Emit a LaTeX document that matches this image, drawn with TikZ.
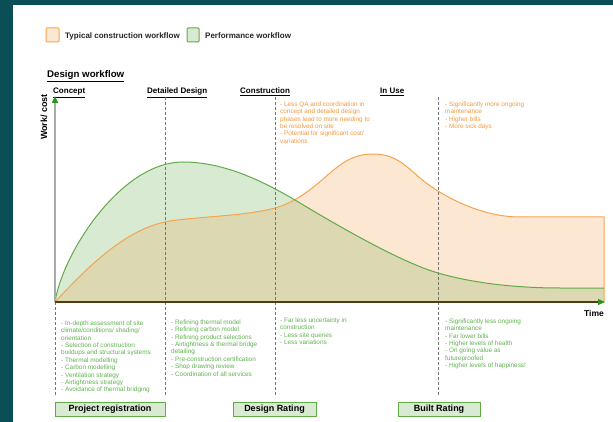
\documentclass[tikz,border=0pt]{standalone}
\usepackage{fontspec}
\setmainfont{Liberation Sans}
\usetikzlibrary{arrows.meta}

\definecolor{frame}{RGB}{10,79,85}
\definecolor{perfline}{RGB}{98,170,72}
\definecolor{perffill}{RGB}{217,234,211}
\definecolor{typline}{RGB}{246,164,78}
\definecolor{typfill}{RGB}{252,231,210}
\definecolor{overlap}{RGB}{219,216,178}
\definecolor{perftext}{RGB}{96,178,80}
\definecolor{typtext}{RGB}{245,152,62}
\definecolor{axisline}{RGB}{78,62,22}
\definecolor{phaseline}{RGB}{115,115,115}
\definecolor{yaxis}{RGB}{170,170,170}
\definecolor{arrowgreen}{RGB}{40,150,30}

% performance workflow curve
\def\perfcurve{(55,302) .. controls (62,255) and (120,162) .. (183,162)
  .. controls (225,162) and (265,182) .. (300,203)
  .. controls (335,224) and (400,262) .. (438,273)
  .. controls (476,284) and (520,288) .. (560,288) -- (604,288)}
% typical construction workflow curve
\def\typcurve{(55,302) .. controls (85,270) and (125,228) .. (170,221)
  .. controls (200,216.5) and (245,216) .. (275,208)
  .. controls (292,203.5) and (308,192) .. (322,180)
  .. controls (340,164) and (352,154) .. (373,154)
  .. controls (395,154) and (405,165) .. (420,178)
  .. controls (440,195) and (480,217) .. (520,217) -- (604,217)}

\begin{document}
\begin{tikzpicture}[x=1pt,y=-1pt,
  note/.style={anchor=north west, inner sep=0pt, align=left,
    font=\fontsize{6.4}{7.4}\selectfont},
  goodnote/.style={note, text=perftext},
  badnote/.style={note, text=typtext},
  phasehead/.style={anchor=base west, inner sep=0pt,
    font=\fontsize{8}{9}\selectfont\bfseries},
  legtext/.style={anchor=base west, inner sep=0pt,
    font=\fontsize{8}{9}\selectfont\bfseries, text=black!85},
  ratingbox/.style={draw=perfline, fill=perffill, line width=1pt,
    font=\fontsize{9}{10}\selectfont\bfseries, inner sep=0pt},
  phasediv/.style={phaseline, dashed, dash pattern=on 3pt off 2pt, line width=0.8pt},
  greentip/.style={-{Triangle[length=7pt,width=6pt,color=arrowgreen]}}
]
\useasboundingbox (0,0) rectangle (613,422);
\fill[frame] (0,0) rectangle (613,422);
\fill[white] (13,5) rectangle (613,422);

% legend
\draw[typline, fill=typfill, rounded corners=1pt, line width=1pt] (46,28) rectangle (59,42);
\node[legtext] (legtyp) at (65,39) {Typical construction workflow};
\draw[perfline, fill=perffill, rounded corners=1pt, line width=1pt] (187,28) rectangle (199,42);
\node[legtext] (legperf) at (205,39) {Performance workflow};

% title and phase headings
\node[anchor=base west, inner sep=0pt, font=\fontsize{9.7}{11}\selectfont\bfseries]
  (title) at (47,78) {\underline{Design workflow}};
\node[phasehead] (hconcept) at (53,94) {\underline{Concept}};
\node[phasehead] (hdetail) at (147,94) {\underline{Detailed Design}};
\node[phasehead] (hconstr) at (240,94) {\underline{Construction}};
\node[phasehead] (huse) at (380,94) {\underline{In Use}};

% filled areas under the two curves
\fill[perffill] \perfcurve -- (604,302) -- cycle;
\fill[typfill] \typcurve -- (604,302) -- cycle;
\begin{scope}
  \clip \perfcurve -- (604,302) -- cycle;
  \fill[overlap] \typcurve -- (604,302) -- cycle;
\end{scope}

% phase dividers
\coordinate (d0t) at (55,302);  \coordinate (d0b) at (55,395);
\coordinate (d1t) at (165,97);  \coordinate (d1b) at (165,395);
\coordinate (d2t) at (275,97);  \coordinate (d2b) at (275,395);
\coordinate (d3t) at (438,97);  \coordinate (d3b) at (438,395);
\draw[phasediv] (d0t) -- (d0b);
\draw[phasediv] (d1t) -- (d1b);
\draw[phasediv] (d2t) -- (d2b);
\draw[phasediv] (d3t) -- (d3b);

% curves
\draw[typline, line width=1pt, line join=round] \typcurve -- (604,302);
\draw[perfline, line width=1pt, line join=round] \perfcurve;

% axes
\coordinate (origin) at (55,302);
\coordinate (ytop) at (55,96);
\coordinate (xend) at (605,302);
\draw[yaxis, line width=1.5pt, greentip] (origin) -- (ytop);
\draw[axisline, line width=1.2pt, greentip] (origin) -- (xend);
\node[rotate=90, inner sep=0pt, font=\fontsize{9}{10}\selectfont\bfseries]
  (ylabel) at (44,117) {Work/ cost};
\node[inner sep=0pt, font=\fontsize{8.5}{9}\selectfont\bfseries] (xlabel) at (594,313) {Time};

% notes above the curves
\node[badnote] (badconstr) at (280,101.5) {- Less QA and coordination in\\concept and detailed design\\phases lead to more needing to\\be resolved on site\\- Potential for significant cost/\\variations};
\node[badnote] (baduse) at (445,101.5) {- Significantly more ongoing\\maintenance\\- Higher bills\\- More sick days};

% notes below the axis
\node[goodnote] (goodconcept) at (61,320.5) {- In-depth assessment of site\\climate/conditions/ shading/\\orientation\\- Selection of construction\\buildups and structural systems\\- Thermal modelling\\- Carbon modelling\\- Ventilation strategy\\- Airtightness strategy\\- Avoidance of thermal bridging};
\node[goodnote] (gooddetail) at (171,319.5) {- Refining thermal model\\- Refining carbon model\\- Refining product selections\\- Airtightness \& thermal bridge\\detailing\\- Pre-construction certification\\- Shop drawing review\\- Coordination of all services};
\node[goodnote] (goodconstr) at (280,317.5) {- Far less uncertainty in\\construction\\- Less site queries\\- Less variations};
\node[goodnote] (gooduse) at (445,318.5) {- Significantly less ongoing\\maintenance\\- Far lower bills\\- Higher levels of health\\- On going value as\\futureproofed\\- Higher levels of happiness!};

% rating stages
\node[ratingbox, minimum width=110pt, minimum height=14pt] (regbox) at (110,409) {Project registration};
\node[ratingbox, minimum width=83pt, minimum height=14pt] (designbox) at (274.5,409) {Design Rating};
\node[ratingbox, minimum width=82pt, minimum height=14pt] (builtbox) at (439,409) {Built Rating};
\end{tikzpicture}
\end{document}
